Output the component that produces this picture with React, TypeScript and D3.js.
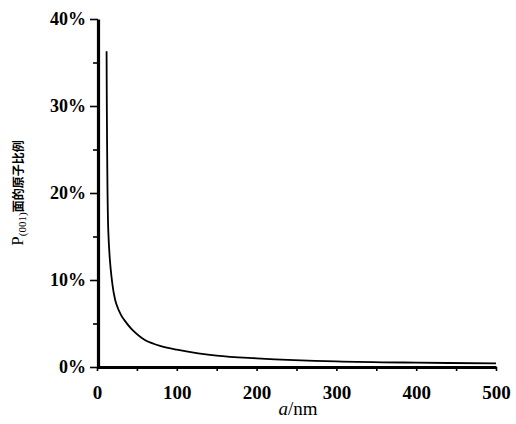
import React, { useEffect, useRef } from 'react'
import * as d3 from 'd3'

// curve: particle size a (nm) -> share of atoms on (001) face (%)
const sizes = [12, 12.3, 12.7, 13.2, 14.2, 16, 18, 21, 24, 30, 35, 45, 60, 80, 100, 150, 200, 300, 400, 500]
const shares = [36.3, 30, 25, 20, 15.5, 12.5, 10.5, 8.5, 7.3, 6.0, 5.3, 4.2, 3.1, 2.4, 2.0, 1.3, 1.0, 0.65, 0.5, 0.42]

const yMajor = [0, 10, 20, 30, 40]
const yMinor = [5, 15, 25, 35]
const xTicks = [0, 50, 100, 150, 200, 250, 300, 350, 400, 450, 500]
const xLabels = [0, 100, 200, 300, 400, 500]

const W = 516
const H = 424

const App = () => {
  const axesRef: any = useRef()

  const x = d3.scaleLinear().domain([0, 500]).range([97, 496])
  const y = d3.scaleLinear().domain([0, 40]).range([367, 19])

  const points = sizes.map((s, i) => [s, shares[i]] as [number, number])
  // centripetal catmull-rom: passes the read points, smooth through the knee
  const path = d3.line<[number, number]>()
    .x(d => x(d[0]))
    .y(d => y(d[1]))
    .curve(d3.curveCatmullRom.alpha(0.5))(points)

  useEffect(() => {
    const g = d3.select(axesRef.current)
    g.selectAll('*').remove()

    // y axis, major ticks with labels
    const yAxis = g.append('g')
      .attr('transform', `translate(${x(0) + 1}, 0)`)
      .call(d3.axisLeft(y)
        .tickValues(yMajor)
        .tickSize(8)
        .tickSizeOuter(0)
        .tickPadding(4)
        .tickFormat(d => `${d}%`))
    yAxis.select('.domain').attr('stroke-width', 3.2)
    yAxis.selectAll('.tick line').attr('stroke-width', 1.6)
    yAxis.selectAll('text')
      .attr('font-family', '"Liberation Serif", serif')
      .attr('font-weight', 'bold')
      .attr('font-size', 18)
      .attr('fill', '#000')

    // minor y ticks
    const yMinorAxis = g.append('g')
      .attr('transform', `translate(${x(0) + 1}, 0)`)
      .call(d3.axisLeft(y).tickValues(yMinor).tickSize(5).tickFormat(() => ''))
    yMinorAxis.select('.domain').remove()
    yMinorAxis.selectAll('.tick line').attr('stroke-width', 1.6)

    // x axis
    const xAxis = g.append('g')
      .attr('transform', `translate(0, ${y(0)})`)
      .call(d3.axisBottom(x)
        .tickValues(xTicks)
        .tickSize(4)
        .tickSizeOuter(0)
        .tickPadding(15)
        .tickFormat(d => (xLabels.includes(d as number) ? `${d}` : '')))
    xAxis.select('.domain').attr('stroke-width', 3)
    xAxis.selectAll('.tick line').attr('stroke-width', 1.6)
    xAxis.selectAll('text')
      .attr('font-family', '"Liberation Serif", serif')
      .attr('font-weight', 'bold')
      .attr('font-size', 19)
      .attr('fill', '#000')
  }, [])

  return (
    <svg width={W} height={H} style={{ position: 'absolute', left: 0, top: 0, background: '#fff' }}>
      <g ref={axesRef} />
      <path d={path ?? ''} fill='none' stroke='#000' strokeWidth={1.8} />
      <text
        transform='translate(23, 193) rotate(-90)'
        textAnchor='middle'
        fontFamily='"Liberation Serif", serif'
        fontSize={17}
        fill='#000'
      >
        P
        <tspan fontSize={11} dy={3}>(001)</tspan>
        <tspan fontSize={12} dy={-3} fontWeight='bold' fontFamily='"Noto Sans CJK SC", sans-serif'>面的原子比例</tspan>
      </text>
      <text
        x={298}
        y={415}
        textAnchor='middle'
        fontFamily='"Liberation Serif", serif'
        fontSize={19}
        fill='#000'
      >
        <tspan fontStyle='italic'>a</tspan>/nm
      </text>
    </svg>
  )
}

export default App
